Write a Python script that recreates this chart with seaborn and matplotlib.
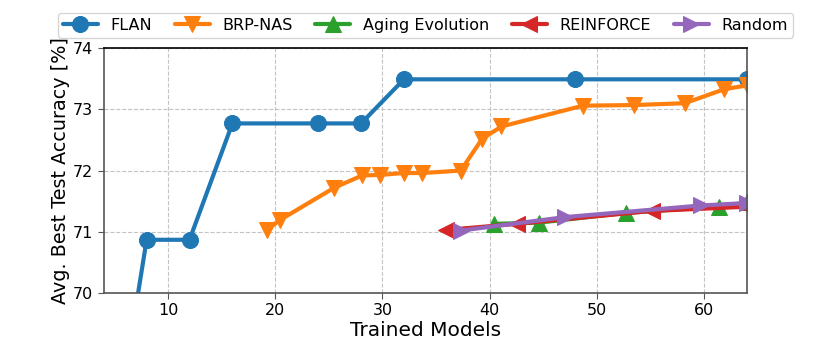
import matplotlib
matplotlib.use("Agg")
import matplotlib.pyplot as plt
import seaborn as sns
import pandas as pd

# values
flan_x = [4, 8, 12, 16, 24, 28, 32, 48, 64]
flan_y = [66.5, 70.87, 70.87, 72.77, 72.77, 72.77, 73.49, 73.49, 73.49]

brp_x = [19.2, 20.4, 25.5, 28.1, 29.8, 32.0, 33.7, 37.3, 39.3, 41.1, 48.7, 53.5, 58.2, 61.9, 64]
brp_y = [71.03, 71.19, 71.72, 71.92, 71.93, 71.96, 71.96, 72.0, 72.52, 72.72, 73.06, 73.07, 73.1, 73.33, 73.39]

aging_x = [40.4, 44.6, 52.7, 61.4, 64]
aging_y = [71.13, 71.15, 71.31, 71.41, 71.48]

reinforce_x = [35.9, 42.5, 55.1, 64]
reinforce_y = [71.03, 71.13, 71.34, 71.41]

random_x = [37.3, 47.0, 59.7, 64]
random_y = [71.02, 71.24, 71.43, 71.47]

series = [
    ("FLAN", flan_x, flan_y, "o", "#1f77b4"),
    ("BRP-NAS", brp_x, brp_y, "v", "#ff7f0e"),
    ("Aging Evolution", aging_x, aging_y, "^", "#2ca02c"),
    ("REINFORCE", reinforce_x, reinforce_y, "<", "#d62728"),
    ("Random", random_x, random_y, ">", "#9467bd"),
]

sns.set_style("white")
plt.rcParams["font.family"] = ["DejaVu Sans"]
plt.rcParams["text.color"] = "black"
plt.rcParams["axes.labelcolor"] = "black"
plt.rcParams["xtick.color"] = "black"
plt.rcParams["ytick.color"] = "black"

fig, ax = plt.subplots(figsize=(8.3, 3.46), dpi=100)
fig.subplots_adjust(left=0.125, right=0.9, top=0.861, bottom=0.153)

for name, xs, ys, mk, col in series:
    df = pd.DataFrame({"x": xs, "y": ys})
    sns.lineplot(data=df, x="x", y="y", ax=ax, label=name, color=col,
                 marker=mk, markersize=11.5, markeredgecolor=col,
                 linewidth=3, sort=False)

ax.set_xlim(4, 64)
ax.set_ylim(70, 74)
ax.set_xticks([10, 20, 30, 40, 50, 60])
ax.set_yticks([70, 71, 72, 73, 74])
ax.tick_params(axis="both", labelsize=11.5, length=4, direction="out",
               bottom=True, left=True, color="#555555", labelcolor="black")
ax.grid(True, linestyle="--", color="#c4c4c4", linewidth=0.8)
for side in ["left", "bottom", "right"]:
    ax.spines[side].set_color("#555555")
ax.spines["top"].set_color("black")
for sp in ax.spines.values():
    sp.set_linewidth(1.2)

ax.set_xlabel("Trained Models", fontsize=14.5, labelpad=2, color="black")
ax.set_ylabel("Avg. Best Test Accuracy [%]", fontsize=13.8, labelpad=2, color="black")

leg = ax.legend(loc="lower center", bbox_to_anchor=(0.5, 1.01), ncol=5,
                fontsize=11.5, frameon=True, borderpad=0.3, columnspacing=1.4,
                handlelength=2.2)
for t in leg.get_texts():
    t.set_color("black")

fig.savefig("out.png", dpi=100)
